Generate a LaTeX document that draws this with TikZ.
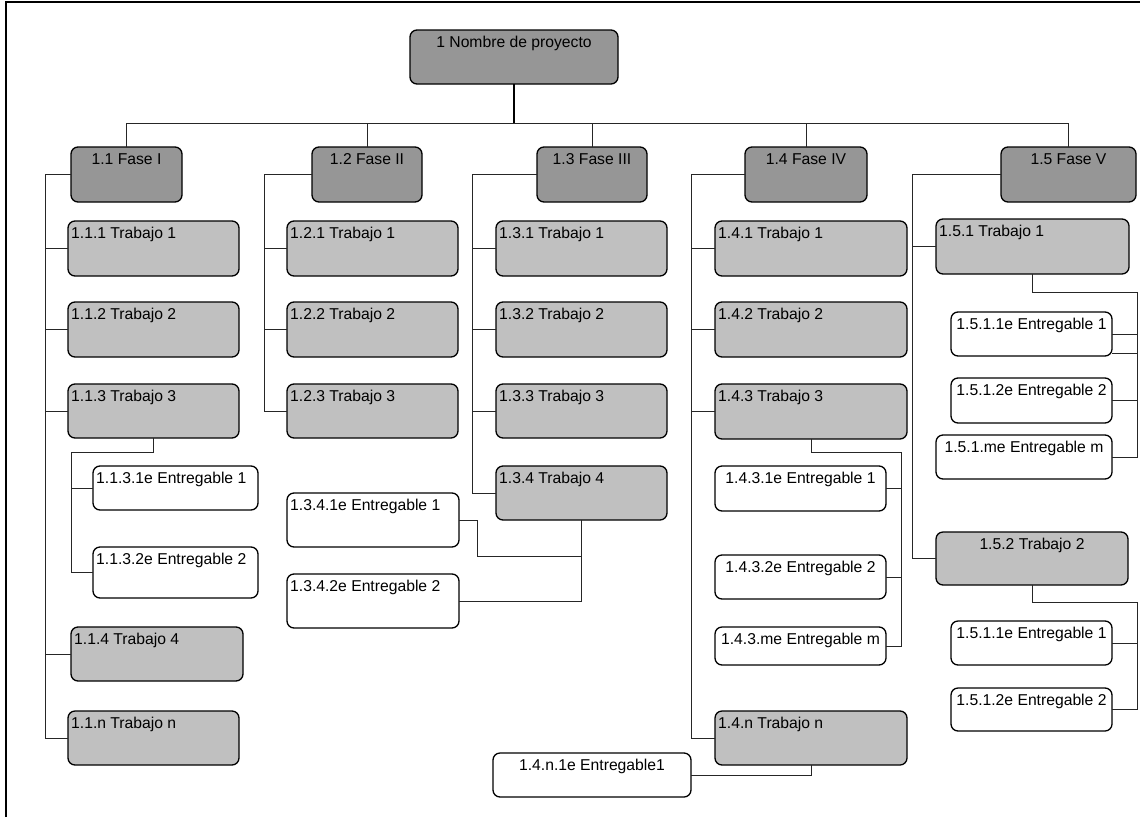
\documentclass[tikz,border=0pt]{standalone}
\usepackage{fontspec}
\setmainfont{Liberation Sans}
\definecolor{fasegray}{HTML}{969696}
\definecolor{trabgray}{HTML}{C0C0C0}
\newcommand\wbsnode[7]{\node[#1, minimum width={#5-#3}, minimum height={#6-#4}, #7] (#2) at ({(#3+#5)/2},{(#4+#6)/2}) {};}
\tikzset{
  boxbase/.style={draw, rounded corners=7pt, line width=1.3pt, inner sep=0pt, outer sep=0pt},
  fase/.style={boxbase, fill=fasegray},
  trab/.style={boxbase, fill=trabgray},
  ent/.style={boxbase, fill=white},
  lbl/.style={font=\fontsize{15.7}{18}\selectfont, inner xsep=3pt, inner ysep=6pt},
  tl/.style={label={[lbl,anchor=north west]north west:#1}},
  tc/.style={label={[lbl,anchor=north]north:#1}},
  conn/.style={line width=0.9pt, black!85},
}
\begin{document}
\begin{tikzpicture}[x=1pt,y=-1pt]
\useasboundingbox (0,0) rectangle (1140,817);
\draw[line width=1.6pt] (6,817) -- (6,2) -- (1140,2);
% top
\wbsnode{fase}{top}{410}{30}{618}{84}{tc={1 Nombre de proyecto}}
% phases
\wbsnode{fase}{f1}{71}{147}{182}{202}{tc={1.1 Fase I}}
\wbsnode{fase}{f2}{312}{147}{422}{202}{tc={1.2 Fase II}}
\wbsnode{fase}{f3}{537}{147}{647}{202}{tc={1.3 Fase III}}
\wbsnode{fase}{f4}{745}{147}{867}{202}{tc={1.4 Fase IV}}
\wbsnode{fase}{f5}{1001}{147}{1136}{202}{tc={1.5 Fase V}}
% column 1
\wbsnode{trab}{t11}{68}{221}{239}{276}{tl={1.1.1 Trabajo 1}}
\wbsnode{trab}{t12}{68}{302}{239}{357}{tl={1.1.2 Trabajo 2}}
\wbsnode{trab}{t13}{68}{384}{239}{438}{tl={1.1.3 Trabajo 3}}
\wbsnode{ent}{e1131}{93}{466}{258}{510}{tl={1.1.3.1e Entregable 1}}
\wbsnode{ent}{e1132}{93}{547}{258}{598}{tl={1.1.3.2e Entregable 2}}
\wbsnode{trab}{t14}{71}{627}{243}{681}{tl={1.1.4 Trabajo 4}}
\wbsnode{trab}{t1n}{68}{711}{239}{765}{tl={1.1.n Trabajo n}}
% column 2
\wbsnode{trab}{t21}{287}{221}{458}{276}{tl={1.2.1 Trabajo 1}}
\wbsnode{trab}{t22}{287}{302}{458}{357}{tl={1.2.2 Trabajo 2}}
\wbsnode{trab}{t23}{287}{384}{458}{438}{tl={1.2.3 Trabajo 3}}
\wbsnode{ent}{e1341}{287}{493}{459}{547}{tl={1.3.4.1e Entregable 1}}
\wbsnode{ent}{e1342}{287}{574}{459}{628}{tl={1.3.4.2e Entregable 2}}
% column 3
\wbsnode{trab}{t31}{496}{221}{667}{276}{tl={1.3.1 Trabajo 1}}
\wbsnode{trab}{t32}{496}{302}{667}{357}{tl={1.3.2 Trabajo 2}}
\wbsnode{trab}{t33}{496}{384}{667}{438}{tl={1.3.3 Trabajo 3}}
\wbsnode{trab}{t34}{496}{466}{667}{520}{tl={1.3.4 Trabajo 4}}
% column 4
\wbsnode{trab}{t41}{715}{221}{907}{276}{tl={1.4.1 Trabajo 1}}
\wbsnode{trab}{t42}{715}{302}{907}{357}{tl={1.4.2 Trabajo 2}}
\wbsnode{trab}{t43}{715}{384}{907}{439}{tl={1.4.3 Trabajo 3}}
\wbsnode{ent}{e1431}{715}{466}{886}{511}{tc={1.4.3.1e Entregable 1}}
\wbsnode{ent}{e1432}{715}{555}{886}{599}{tc={1.4.3.2e Entregable 2}}
\wbsnode{ent}{e143m}{715}{627}{886}{665}{tc={1.4.3.me Entregable m}}
\wbsnode{trab}{t4n}{715}{711}{907}{765}{tl={1.4.n Trabajo n}}
\wbsnode{ent}{e14n1}{493}{753}{691}{797}{tc={1.4.n.1e Entregable1}}
% column 5
\wbsnode{trab}{t51}{936}{219}{1129}{274}{tl={1.5.1 Trabajo 1}}
\wbsnode{ent}{e1511}{951}{312}{1112}{356}{tc={1.5.1.1e Entregable 1}}
\wbsnode{ent}{e1512}{951}{378}{1112}{423}{tc={1.5.1.2e Entregable 2}}
\wbsnode{ent}{e151m}{936}{435}{1112}{479}{tc={1.5.1.me Entregable m}}
\wbsnode{trab}{t52}{936}{532}{1128}{585}{tc={1.5.2 Trabajo 2}}
\wbsnode{ent}{e1521}{951}{621}{1112}{665}{tc={1.5.1.1e Entregable 1}}
\wbsnode{ent}{e1522}{951}{688}{1112}{731}{tc={1.5.1.2e Entregable 2}}
% coordinates
\coordinate (bus) at (0,123);
\coordinate (sp1) at (45,0);
\coordinate (sp2) at (264,0);
\coordinate (sp3) at (472,0);
\coordinate (sp4) at (691,0);
\coordinate (sp5) at (912,0);
\coordinate (j13) at (71,452);
\coordinate (j34) at (477,556);
\coordinate (j43) at (901,452);
\coordinate (j51) at (1137,292);
\coordinate (j52) at (1137,602);
% top connectors
\draw[line width=1.3pt] (top.south) -- (top.south |- bus);
\draw[conn] (f1.north) -- (f1.north |- bus) -- (f5.north |- bus) -- (f5.north);
\foreach \f in {f2,f3,f4} \draw[conn] (\f.north) -- (\f.north |- bus);
% column 1
\draw[conn] (f1.west) -- (f1.west -| sp1) -- (t1n.west -| sp1) -- (t1n.west);
\foreach \t in {t11,t12,t13,t14} \draw[conn] (\t.west -| sp1) -- (\t.west);
\draw[conn] (t13.south) |- (j13) -- (e1132.west -| j13) -- (e1132.west);
\draw[conn] (e1131.west -| j13) -- (e1131.west);
% column 2
\draw[conn] (f2.west) -- (f2.west -| sp2) -- (t23.west -| sp2) -- (t23.west);
\foreach \t in {t21,t22} \draw[conn] (\t.west -| sp2) -- (\t.west);
% column 3
\draw[conn] (f3.west) -- (f3.west -| sp3) -- (t34.west -| sp3) -- (t34.west);
\foreach \t in {t31,t32,t33} \draw[conn] (\t.west -| sp3) -- (\t.west);
\draw[conn] (t34.south) -- (e1342.east -| t34.south) -- (e1342.east);
\draw[conn] (t34.south |- j34) -- (j34) -- (e1341.east -| j34) -- (e1341.east);
% column 4
\draw[conn] (f4.west) -- (f4.west -| sp4) -- (t4n.west -| sp4) -- (t4n.west);
\foreach \t in {t41,t42,t43} \draw[conn] (\t.west -| sp4) -- (\t.west);
\draw[conn] (t43.south) |- (j43) -- (e143m.east -| j43) -- (e143m.east);
\foreach \e in {e1431,e1432} \draw[conn] (\e.east -| j43) -- (\e.east);
\draw[conn] (t4n.south) |- (e14n1.east);
% column 5
\draw[conn] (f5.west) -- (f5.west -| sp5) -- (t52.west -| sp5) -- (t52.west);
\draw[conn] (t51.west -| sp5) -- (t51.west);
\draw[conn] (t51.south) |- (j51) -- (e151m.east -| j51) -- (e151m.east);
\foreach \e in {e1511,e1512} \draw[conn] (\e.east -| j51) -- (\e.east);
\draw[conn] ([yshift=-19pt]e1511.east -| j51) -- ([yshift=-19pt]e1511.east);
\draw[conn] (t52.south) |- (j52) -- (e1522.east -| j52) -- (e1522.east);
\draw[conn] (e1521.east -| j52) -- (e1521.east);
\end{tikzpicture}
\end{document}
